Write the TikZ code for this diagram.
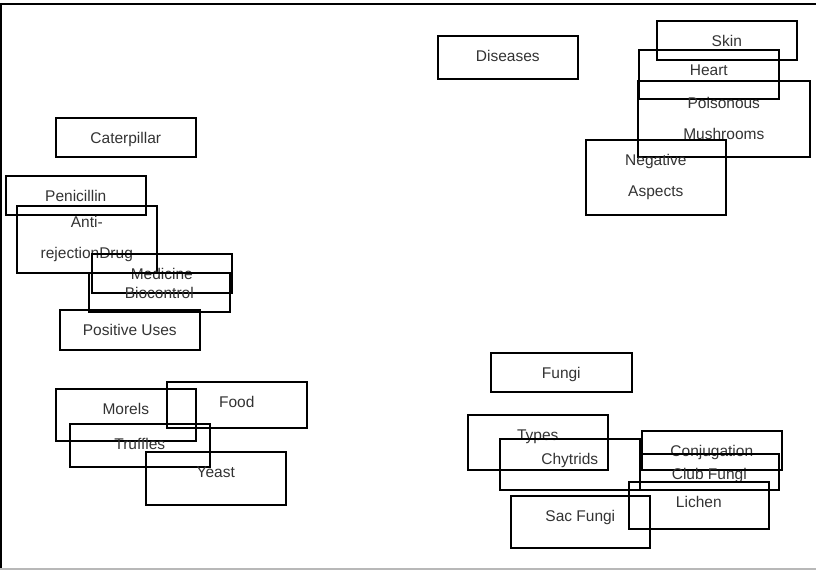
\documentclass[tikz,border=0pt]{standalone}
\usepackage{fontspec}
\setmainfont{Liberation Sans}
\usepackage{tikz}
\definecolor{textgray}{rgb}{0.20, 0.20, 0.20}
\definecolor{edgegray}{rgb}{0.72, 0.72, 0.72}

\tikzset{
  box/.style={draw, line width=1.6pt, anchor=north west, inner sep=0pt,
    minimum width=140pt, text height=25.5pt, text depth=#1,
    text=textgray, font=\fontsize{15.5}{31}\selectfont},
  tallbox/.style={draw, line width=1.6pt, anchor=north west, inner sep=0pt,
    minimum width=140pt, minimum height=#1, align=center,
    text=textgray, font=\fontsize{15.5}{31}\selectfont}
}

\begin{document}
\begin{tikzpicture}[x=1pt, y=-1pt]

\useasboundingbox (0,0) rectangle (816,570);

% Frame
\draw[line width=1.6pt] (0,4) -- (816,4);
\draw[line width=1.6pt] (1,4) -- (1,570);
\draw[line width=1.6pt, edgegray] (0,569) -- (816,569);

% Positive uses
\node[box=13.5pt] (caterpillar) at (55,117) {Caterpillar};
\node[box=13.5pt] (penicillin) at (5,175) {Penicillin};
\node[tallbox=67pt] (antidrug) at (16,205) {Anti-\\rejectionDrug};
\node[box=13.5pt] (medicine) at (91,253) {Medicine};
\node[box=13.5pt, minimum width=141pt] (biocontrol) at (88,272) {Biocontrol};
\node[box=14.5pt] (positive) at (59,309) {Positive Uses};

% Negative aspects
\node[box=17.5pt] (diseases) at (437,35) {Diseases};
\node[box=13.5pt] (skin) at (656,20) {Skin};
\node[box=23.5pt] (heart) at (638,49) {Heart};
\node[tallbox=76pt, minimum width=172pt] (poisonous) at (637,80) {Poisonous\\Mushrooms};
\node[tallbox=75pt] (negative) at (585,139) {Negative\\Aspects};

% Food
\node[box=26.5pt] (morels) at (55,388) {Morels};
\node[box=20.5pt] (food) at (166,381) {Food};
\node[box=17.5pt] (truffles) at (69,423) {Truffles};
\node[box=27.5pt] (yeast) at (145,451) {Yeast};

% Fungi
\node[box=13.5pt, minimum width=141pt] (fungi) at (490,352) {Fungi};
\node[box=29.5pt] (types) at (467,414) {Types};
\node[box=25.5pt] (chytrids) at (499,438) {Chytrids};
\node[box=13.5pt] (conjugation) at (641,430) {Conjugation};
\node[box=10.5pt, minimum width=139pt] (clubfungi) at (639,453) {Club Fungi};
\node[box=21.5pt] (lichen) at (628,481) {Lichen};
\node[box=26.5pt, minimum width=139pt] (sacfungi) at (510,495) {Sac Fungi};

\end{tikzpicture}
\end{document}
